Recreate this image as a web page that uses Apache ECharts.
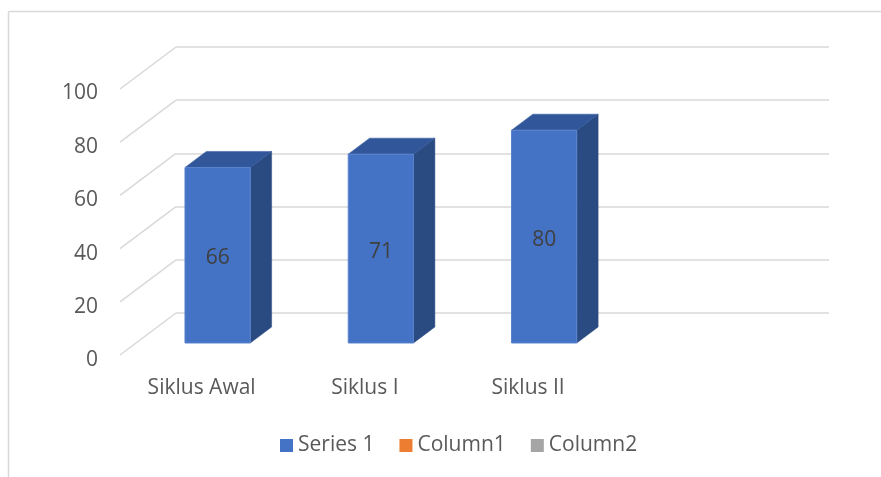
<!DOCTYPE html>
<html>
<head>
<meta charset="utf-8">
<script src="https://cdn.jsdelivr.net/npm/echarts@6/dist/echarts.min.js"></script>
<style>
html,body{margin:0;padding:0;background:#fff;}
#main{width:881px;height:477px;}
</style>
</head>
<body>
<div id="main"></div>
<script>
// ---- data ----
const categories = ['Siklus Awal', 'Siklus I', 'Siklus II', ''];
const series1 = [66, 71, 80, null];
const column1 = [];
const column2 = [];
const yTicks = [0, 20, 40, 60, 80, 100];
const seriesNames = ['Series 1', 'Column1', 'Column2'];

// ---- styling / geometry ----
const FONT = 'Open Sans';
const TEXT = '#595959';
const GRID = '#d9d9d9';
const DEPTH_X = -56, DEPTH_Y = 42;      // back wall -> front edge of floor
const BAR_FRONT = 0.714, BAR_BACK = 0.333; // fraction of depth toward front

const chart = echarts.init(document.getElementById('main'));

function barRender(params, api) {
  const idx = api.value(0);
  const val = api.value(1);
  if (val == null || isNaN(val)) return;
  const c0 = api.coord([idx, 0]);
  const c1 = api.coord([idx, val]);
  const bw = api.size([1, 0])[0] * 0.4;
  const fx = DEPTH_X * BAR_FRONT, fy = DEPTH_Y * BAR_FRONT;
  const bx = DEPTH_X * BAR_BACK, by = DEPTH_Y * BAR_BACK;
  const ddx = bx - fx, ddy = by - fy;
  const x0 = c0[0] - bw / 2 + fx, x1 = x0 + bw;
  const yb = c0[1] + fy, yt = c1[1] + fy;
  return {
    type: 'group',
    children: [
      { type: 'polygon', shape: { points: [[x1, yb], [x1, yt], [x1 + ddx, yt + ddy], [x1 + ddx, yb + ddy]] },
        style: { fill: '#2A4A82', stroke: '#2A4A82', lineWidth: 0.5 } },
      { type: 'polygon', shape: { points: [[x0, yt], [x1, yt], [x1 + ddx, yt + ddy], [x0 + ddx, yt + ddy]] },
        style: { fill: '#31579A', stroke: '#31579A', lineWidth: 0.5 } },
      { type: 'rect', shape: { x: x0, y: yt, width: bw, height: yb - yt },
        style: { fill: '#4472C4', stroke: '#5A83CC', lineWidth: 1 } },
      { type: 'text', style: { text: String(val), x: (x0 + x1) / 2, y: (yt + yb) / 2 + 3,
          fill: '#404040', font: '21px "' + FONT + '"',
          align: 'center', verticalAlign: 'middle', textAlign: 'center', textVerticalAlign: 'middle' } }
    ]
  };
}

function diagRender(params, api) {
  const v = api.value(0);
  const cs = params.coordSys;
  const p = api.coord([0, v]);
  const x = cs.x, y = p[1];
  return { type: 'line', shape: { x1: x, y1: y, x2: x + DEPTH_X, y2: y + DEPTH_Y },
           style: { stroke: GRID, lineWidth: 1.5 } };
}

const option = {
  animation: false,
  backgroundColor: '#fff',
  grid: [
    { left: 176, right: 52, top: 47, bottom: 164 },   // back wall
    { left: 120, right: 108, top: 89, bottom: 121 }   // front edge
  ],
  xAxis: [
    { type: 'category', data: categories, gridIndex: 0, boundaryGap: true,
      axisLine: { show: false }, axisTick: { show: false }, axisLabel: { show: false } },
    { type: 'category', data: categories, gridIndex: 1, boundaryGap: true,
      axisLine: { show: false }, axisTick: { show: false },
      axisLabel: { color: TEXT, fontFamily: FONT, fontSize: 21, margin: 22 } }
  ],
  yAxis: [
    { type: 'value', gridIndex: 0, min: 0, max: 100, interval: 20,
      axisLine: { show: false }, axisTick: { show: false }, axisLabel: { show: false },
      splitLine: { lineStyle: { color: GRID, width: 1.5 } } },
    { type: 'value', gridIndex: 1, min: 0, max: 100, interval: 20,
      axisLine: { show: false }, axisTick: { show: false }, splitLine: { show: false },
      axisLabel: { color: TEXT, fontFamily: FONT, fontSize: 21, margin: 22,
        formatter: '{v|{value}}',
        rich: { v: { color: TEXT, fontFamily: FONT, fontSize: 21, padding: [9, 0, 0, 0] } } } }
  ],
  legend: {
    data: seriesNames, left: 275, top: 430, icon: 'rect', itemWidth: 13, itemHeight: 13,
    itemGap: 25, selectedMode: false,
    textStyle: { color: TEXT, fontFamily: FONT, fontSize: 21 }
  },
  graphic: [
    { type: 'line', shape: { x1: 8.5, y1: 11.5, x2: 881, y2: 11.5 }, style: { stroke: GRID, lineWidth: 1.5 } },
    { type: 'line', shape: { x1: 8.5, y1: 11.5, x2: 8.5, y2: 477 }, style: { stroke: GRID, lineWidth: 1.5 } }
  ],
  series: [
    { type: 'custom', name: 'diag', xAxisIndex: 0, yAxisIndex: 0, renderItem: diagRender,
      data: yTicks.map(v => [v]), encode: { x: -1, y: 0 }, silent: true, z: 1 },
    { type: 'custom', name: seriesNames[0], xAxisIndex: 0, yAxisIndex: 0, renderItem: barRender,
      itemStyle: { color: '#4472C4' },
      data: series1.map((v, i) => [i, v]), encode: { x: 0, y: 1 }, z: 3 },
    { type: 'bar', name: seriesNames[1], xAxisIndex: 0, yAxisIndex: 0, data: column1, itemStyle: { color: '#ED7D31' } },
    { type: 'bar', name: seriesNames[2], xAxisIndex: 0, yAxisIndex: 0, data: column2, itemStyle: { color: '#A5A5A5' } }
  ]
};
chart.setOption(option);
</script>
</body>
</html>
